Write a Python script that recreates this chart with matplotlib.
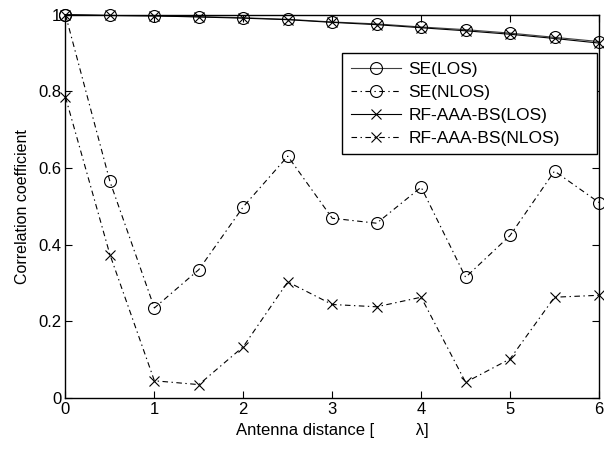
import matplotlib.pyplot as plt
import numpy as np

plt.rcParams["font.family"] = ["Liberation Sans", "DejaVu Sans"]
plt.rcParams["lines.scale_dashes"] = False

# antenna spacing in wavelengths
distance = np.arange(0, 6.01, 0.5)

se_los = [1.0, 0.998, 0.997, 0.995, 0.992, 0.988, 0.981, 0.976, 0.968, 0.961, 0.952, 0.941, 0.930]
se_nlos = [1.0, 0.565, 0.235, 0.335, 0.499, 0.631, 0.469, 0.456, 0.550, 0.315, 0.424, 0.592, 0.510]
rf_los = [1.0, 0.998, 0.997, 0.994, 0.991, 0.987, 0.980, 0.974, 0.966, 0.958, 0.949, 0.938, 0.926]
rf_nlos = [0.785, 0.374, 0.045, 0.035, 0.134, 0.303, 0.244, 0.238, 0.263, 0.041, 0.102, 0.263, 0.268]

fig = plt.figure(figsize=(6.04, 4.54), dpi=100)
ax = fig.add_axes([0.1084, 0.1233, 0.8833, 0.8443])

dashdot = (4, 2.5, 1, 2.5)

ax.plot(distance, se_los, color="#404040", lw=0.8, marker="o", ms=8.6,
        mfc="none", mec="black", mew=0.8, label="SE(LOS)", clip_on=False)
ax.plot(distance, se_nlos, color="black", lw=0.8, dashes=dashdot, marker="o", ms=8.6,
        mfc="none", mec="black", mew=0.8, label="SE(NLOS)", clip_on=False)
ax.plot(distance, rf_los, color="black", lw=0.8, marker="x", ms=6.5,
        mew=0.8, label="RF-AAA-BS(LOS)", clip_on=False)
ax.plot(distance, rf_nlos, color="black", lw=0.8, dashes=dashdot, marker="x", ms=6.5,
        mew=0.8, label="RF-AAA-BS(NLOS)", clip_on=False)

ax.set_xlim(0, 6)
ax.set_ylim(0, 1)
ax.set_xticks(range(7))
ax.set_yticks([0, 0.2, 0.4, 0.6, 0.8, 1])
ax.set_yticklabels(["0", "0.2", "0.4", "0.6", "0.8", "1"])
ax.tick_params(direction="in", top=True, right=True, length=5, width=0.8,
               labelsize=12, pad=3)
for s in ax.spines.values():
    s.set_linewidth(1.0)

ax.set_xlabel("Antenna distance [         λ]", fontsize=12, labelpad=4)
ax.set_ylabel("Correlation coefficient", fontsize=11.5, labelpad=6)

# MATLAB-style box: wider than its contents, blank space on the right
leg = ax.legend(loc="upper left", bbox_to_anchor=(0.518, 0.900, 0.478, 0), mode="expand",
                borderaxespad=0, fontsize=12.5, numpoints=1, handlelength=2.9,
                handletextpad=0.45, labelspacing=0.45, borderpad=0.5, fancybox=False,
                framealpha=1, edgecolor="black")
leg.get_frame().set_linewidth(1.0)

fig.savefig("out.png", dpi=100)
